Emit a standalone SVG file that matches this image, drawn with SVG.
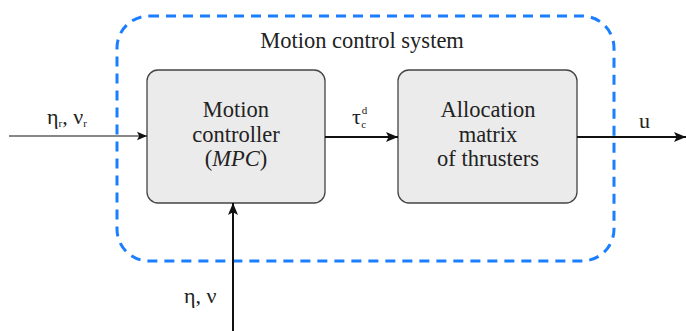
<svg xmlns="http://www.w3.org/2000/svg" width="686" height="331" viewBox="0 0 686 331">
  <defs>
    <marker id="head" viewBox="0 0 10 10" refX="10" refY="5" markerWidth="10" markerHeight="10" markerUnits="userSpaceOnUse" orient="auto">
      <path d="M0,0.8 L10,5 L0,9.2 L2.2,5 Z" fill="#111"/>
    </marker>
    <marker id="headBig" viewBox="0 0 10 10" refX="10" refY="5" markerWidth="12" markerHeight="12" markerUnits="userSpaceOnUse" orient="auto">
      <path d="M0,0.8 L10,5 L0,9.2 L2.2,5 Z" fill="#111"/>
    </marker>
  </defs>
  <style>
    .lbl { font-size: 22.5px; text-anchor: middle; }
    .sig { font-size: 22px; }
    .sub { font-size: 11px; }
    .box { fill: #ebebeb; stroke: #444; stroke-width: 1.3; }
    .frame { fill: none; stroke: #1a7fff; stroke-width: 3; stroke-dasharray: 10 7; }
    .wire { fill: none; stroke: #111; stroke-width: 2; }
  </style>
  <rect width="686" height="331" fill="#ffffff"/>

  <g font-family="Liberation Serif, DejaVu Serif, serif" fill="#222">
    <!-- outer system boundary -->
    <g id="system">
      <rect class="frame" x="117" y="16" width="497" height="245" rx="32"/>
      <text class="lbl" x="362" y="48">Motion control system</text>
    </g>

    <g id="controller">
      <rect class="box" x="147" y="70" width="178" height="133" rx="11"/>
      <text class="lbl" x="236" y="117">Motion</text>
      <text class="lbl" x="236" y="142">controller</text>
      <text class="lbl" x="236" y="166">(<tspan font-style="italic">MPC</tspan>)</text>
    </g>

    <g id="allocation">
      <rect class="box" x="398" y="70" width="179" height="133" rx="11"/>
      <text class="lbl" x="488" y="117">Allocation</text>
      <text class="lbl" x="488" y="142">matrix</text>
      <text class="lbl" x="488" y="166">of thrusters</text>
    </g>

    <g id="connectors">
      <line x1="9" y1="136" x2="147" y2="136" stroke="#111" stroke-width="1.2" marker-end="url(#head)"/>
      <line class="wire" x1="325" y1="137" x2="398" y2="137" marker-end="url(#headBig)"/>
      <line class="wire" x1="577" y1="137" x2="686" y2="137" marker-end="url(#headBig)"/>
      <line class="wire" x1="233" y1="331" x2="233" y2="203" marker-end="url(#headBig)"/>
    </g>

    <g id="labels">
      <text class="sig" x="47" y="124">η<tspan class="sub" dy="3">r</tspan><tspan dy="-3">, ν</tspan><tspan class="sub" dy="3">r</tspan></text>
      <text class="sig" x="352" y="124">τ<tspan class="sub" dx="1" dy="-10">d</tspan><tspan class="sub" dx="-6" dy="14">c</tspan></text>
      <text class="sig" x="639" y="128">u</text>
      <text class="sig" x="184" y="303">η, ν</text>
    </g>
  </g>
</svg>
